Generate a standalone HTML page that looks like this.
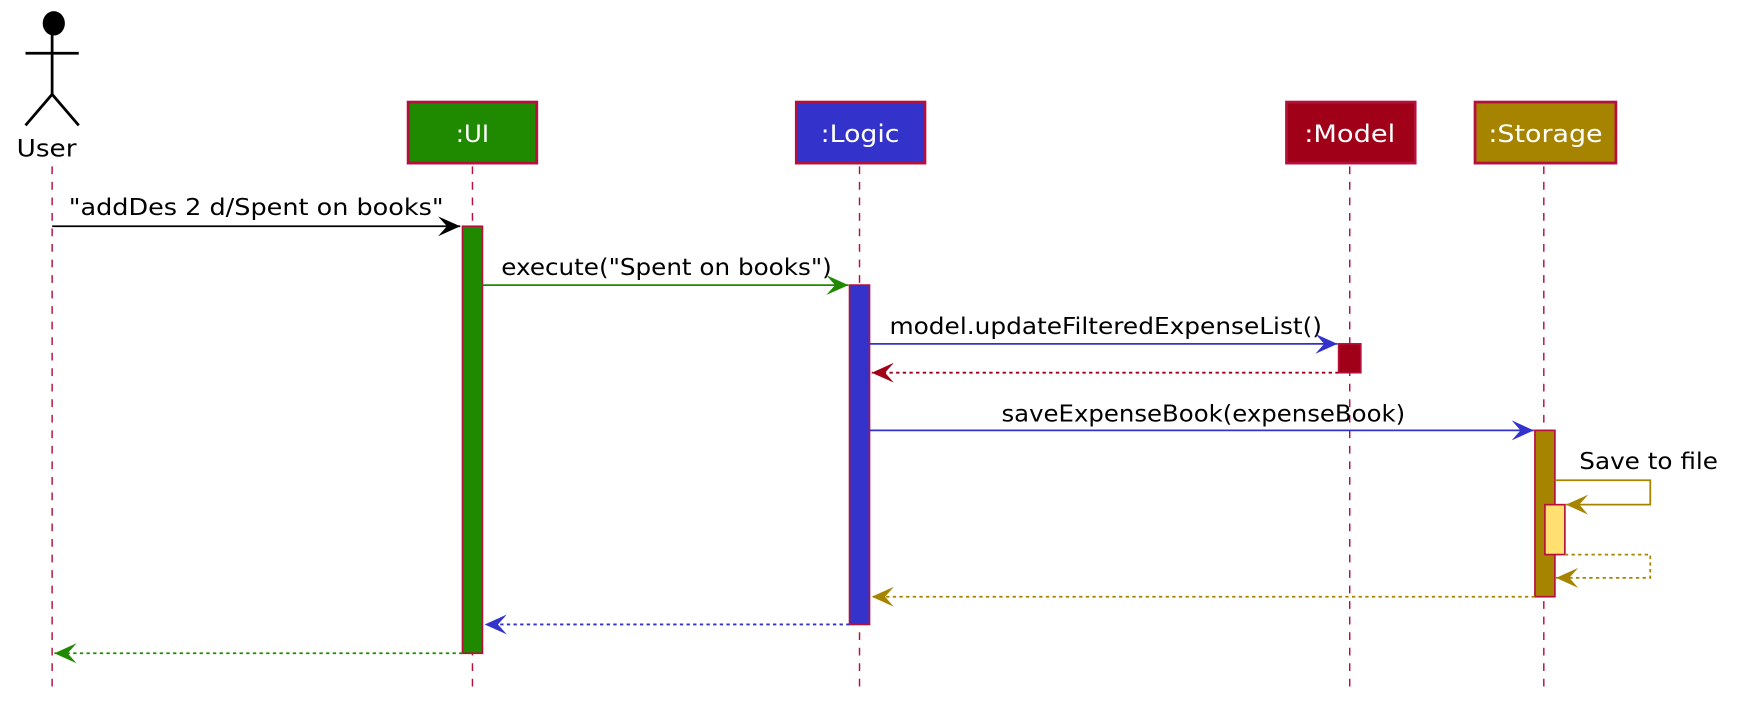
<!DOCTYPE html>
<html><head><meta charset="utf-8"><style>
html,body{margin:0;padding:0;background:#fff;}
svg{display:block;}
text{font-family:"DejaVu Sans","Liberation Sans",sans-serif;}
</style></head><body>
<svg width="1739" height="711" viewBox="0 0 1568 641" xmlns="http://www.w3.org/2000/svg">
<defs>
<marker id="a" viewBox="0 0 20 20" refX="20" refY="10" markerWidth="20" markerHeight="20" markerUnits="userSpaceOnUse" orient="auto"><path d="M0,1 L20,10 L0,19 L8,10 Z" fill="context-stroke"/></marker>
</defs>
<g stroke="#b5103c" stroke-width="1.3" stroke-dasharray="7,7" fill="none">
<line x1="47" y1="150" x2="47" y2="625"/>
<line x1="426" y1="150" x2="426" y2="625"/>
<line x1="775" y1="150" x2="775" y2="625"/>
<line x1="1217" y1="150" x2="1217" y2="625"/>
<line x1="1392" y1="150" x2="1392" y2="625"/>
</g>
<g stroke="#000" stroke-width="2.5" fill="none">
<line x1="47" y1="30" x2="47" y2="85"/>
<line x1="23" y1="48" x2="71" y2="48"/>
<line x1="47" y1="85" x2="23" y2="113"/>
<line x1="47" y1="85" x2="71" y2="113"/>
</g>
<ellipse cx="48.5" cy="21" rx="10" ry="11" fill="#000"/>
<text x="15" y="141" font-size="22" textLength="54" lengthAdjust="spacingAndGlyphs" fill="#000">User</text>
<g stroke="#b5103c" stroke-width="2.5">
<rect x="368" y="92" width="116" height="55" fill="#1f8a00"/>
<rect x="718" y="92" width="116" height="55" fill="#3333cc"/>
<rect x="1160" y="92" width="116" height="55" fill="#a00018"/>
<rect x="1330" y="92" width="127" height="55" fill="#a68400"/>
</g>
<g fill="#fff" font-size="22">
<text x="411" y="128" textLength="30" lengthAdjust="spacingAndGlyphs">:UI</text>
<text x="740" y="128" textLength="71" lengthAdjust="spacingAndGlyphs">:Logic</text>
<text x="1176" y="128" textLength="82" lengthAdjust="spacingAndGlyphs">:Model</text>
<text x="1342" y="128" textLength="103" lengthAdjust="spacingAndGlyphs">:Storage</text>
</g>
<g stroke="#b5103c" stroke-width="1.5">
<rect x="417" y="204" width="18" height="385" fill="#1f8a00"/>
<rect x="766" y="257" width="18" height="306" fill="#3333cc"/>
<rect x="1207" y="310" width="20" height="26" fill="#a00018"/>
<rect x="1384" y="388" width="18" height="150" fill="#a68400"/>
<rect x="1393" y="455" width="18" height="45" fill="#ffe070"/>
</g>
<g font-size="21" fill="#000" lengthAdjust="spacingAndGlyphs">
<text x="62" y="194" textLength="338" lengthAdjust="spacingAndGlyphs">"addDes 2 d/Spent on books"</text>
<text x="452" y="248" textLength="298" lengthAdjust="spacingAndGlyphs">execute("Spent on books")</text>
<text x="802" y="301" textLength="390" lengthAdjust="spacingAndGlyphs">model.updateFilteredExpenseList()</text>
<text x="903" y="380" textLength="364" lengthAdjust="spacingAndGlyphs">saveExpenseBook(expenseBook)</text>
<text x="1424" y="423" textLength="125" lengthAdjust="spacingAndGlyphs">Save to file</text>
</g>
<g fill="none" stroke-width="1.6">
<line x1="47" y1="204" x2="415" y2="204" stroke="#000" marker-end="url(#a)"/>
<line x1="435" y1="257" x2="765" y2="257" stroke="#1f8a00" marker-end="url(#a)"/>
<line x1="784" y1="310" x2="1206" y2="310" stroke="#3333cc" marker-end="url(#a)"/>
<line x1="1207" y1="336" x2="786" y2="336" stroke="#a00018" stroke-dasharray="3,3" marker-end="url(#a)"/>
<line x1="784" y1="388" x2="1383" y2="388" stroke="#3333cc" marker-end="url(#a)"/>
<polyline points="1402,433 1488,433 1488,455 1412,455" stroke="#a68400" marker-end="url(#a)"/>
<polyline points="1411,500 1488,500 1488,521 1403,521" stroke="#a68400" stroke-dasharray="3,3" marker-end="url(#a)"/>
<line x1="1384" y1="538" x2="786" y2="538" stroke="#a68400" stroke-dasharray="3,3" marker-end="url(#a)"/>
<line x1="766" y1="563" x2="437" y2="563" stroke="#3333cc" stroke-dasharray="3,3" marker-end="url(#a)"/>
<line x1="417" y1="589" x2="49" y2="589" stroke="#1f8a00" stroke-dasharray="3,3" marker-end="url(#a)"/>
</g>
</svg>
</body></html>
